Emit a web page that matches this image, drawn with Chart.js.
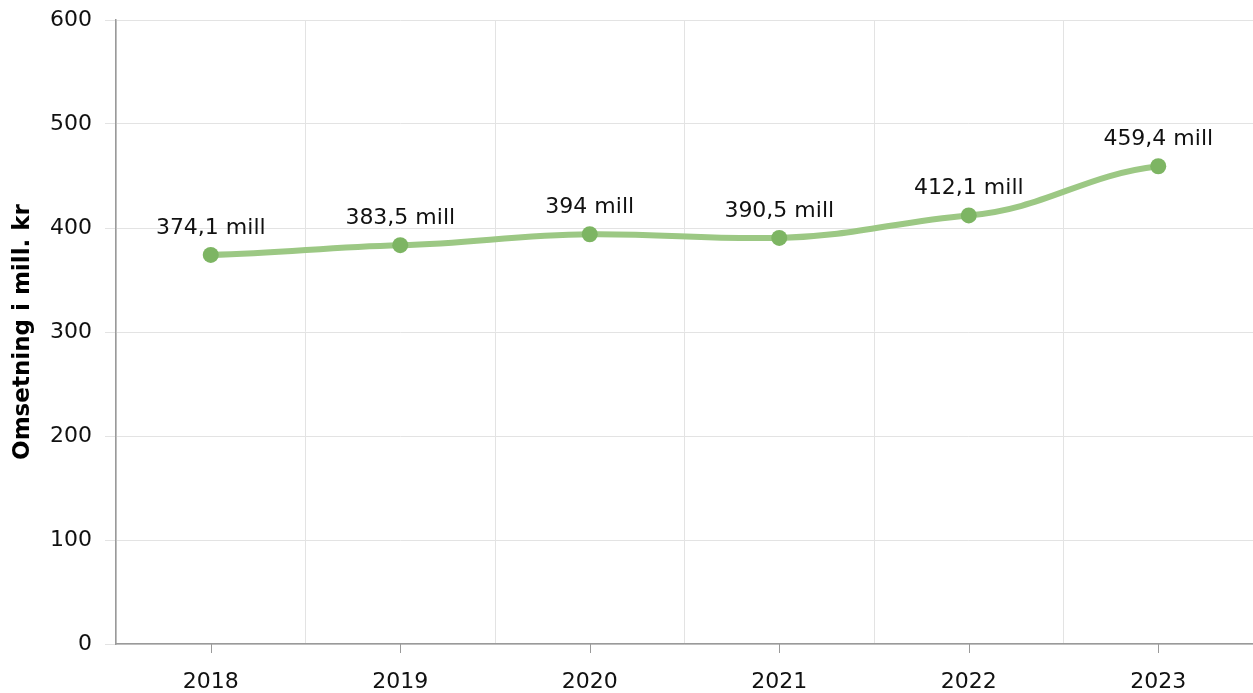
<!DOCTYPE html>
<html>
<head>
<meta charset="utf-8">
<script src="https://cdn.jsdelivr.net/npm/chart.js@4.4.1/dist/chart.umd.min.js"></script>
<style>
  html, body { margin: 0; padding: 0; background: #fff; }
  #wrap { width: 1253px; height: 693px; position: relative; }
</style>
</head>
<body>
<div id="wrap"><canvas id="myChart"></canvas></div>
<script>
const years = ['2018', '2019', '2020', '2021', '2022', '2023'];
const turnover = [374.1, 383.5, 394, 390.5, 412.1, 459.4];
const yTicks = [0, 100, 200, 300, 400, 500, 600];
const yTitle = 'Omsetning i mill. kr';

const fontFamily = "'DejaVu Sans', Verdana, sans-serif";
const gridColor = '#e3e3e3';
const axisColor = '#9a9a9a';

// soften the spline: pull control point heights towards the point itself
const flattenCurve = {
    id: 'flattenCurve',
    beforeDatasetDraw(chart, args) {
        const meta = args.meta;
        const line = meta.dataset;
        if (!line || line._flattened) return;
        line.updateControlPoints(chart.chartArea, meta.iScale.axis);
        meta.data.forEach(function (p) {
            p.cp1y = p.y + (p.cp1y - p.y) * 0.45;
            p.cp2y = p.y + (p.cp2y - p.y) * 0.45;
        });
        line._path = undefined;
        line._flattened = true;
    }
};

// value labels above the points, e.g. "374,1 mill"
const pointLabels = {
    id: 'pointLabels',
    afterDatasetsDraw(chart) {
        const ctx = chart.ctx;
        const meta = chart.getDatasetMeta(0);
        ctx.save();
        ctx.font = '22px ' + fontFamily;
        ctx.fillStyle = '#111';
        ctx.textAlign = 'center';
        ctx.textBaseline = 'middle';
        meta.data.forEach(function (pt, i) {
            const txt = String(turnover[i]).replace('.', ',') + ' mill';
            ctx.fillText(txt, pt.x, pt.y - 27);
        });
        ctx.restore();
    }
};

// small tick marks under the x axis at the category centres
const xTickMarks = {
    id: 'xTickMarks',
    afterDraw(chart) {
        const x = chart.scales.x;
        const ctx = chart.ctx;
        ctx.save();
        ctx.strokeStyle = axisColor;
        ctx.lineWidth = 1;
        x.ticks.forEach(function (t, i) {
            const px = Math.round(x.getPixelForTick(i)) + 0.5;
            ctx.beginPath();
            ctx.moveTo(px, x.top);
            ctx.lineTo(px, x.top + 9);
            ctx.stroke();
        });
        ctx.restore();
    }
};

const config = {
    type: 'line',
    data: {
        labels: years,
        datasets: [{
            label: yTitle,
            data: turnover,
            borderColor: '#9cc884',
            borderWidth: 6,
            tension: 0.4,
            pointRadius: 8,
            pointHoverRadius: 8,
            pointBackgroundColor: '#7db563',
            pointBorderColor: '#7db563',
            pointBorderWidth: 0,
            fill: false
        }]
    },
    options: {
        responsive: true,
        maintainAspectRatio: false,
        animation: false,
        layout: { autoPadding: false, padding: { top: 20, right: 0, left: 0, bottom: 0 } },
        plugins: {
            legend: { display: false },
            tooltip: { enabled: false }
        },
        scales: {
            x: {
                type: 'category',
                offset: true,
                grid: {
                    offset: true,
                    color: gridColor,
                    drawTicks: false
                },
                border: { color: axisColor, width: 1.5 },
                ticks: {
                    padding: 25,
                    color: '#111',
                    font: { family: fontFamily, size: 22 },
                    maxRotation: 0
                },
                afterFit(scale) { scale.height = 49; }
            },
            y: {
                min: 0,
                max: 600,
                afterBuildTicks(scale) {
                    scale.ticks = yTicks.map(function (v) { return { value: v }; });
                },
                grid: {
                    color: gridColor,
                    tickLength: 11,
                    tickColor: gridColor
                },
                border: { color: axisColor, width: 1.5 },
                ticks: {
                    padding: 13,
                    color: '#111',
                    font: { family: fontFamily, size: 22 }
                },
                title: {
                    display: true,
                    text: yTitle,
                    color: '#000',
                    font: { family: fontFamily, size: 23, weight: 'bold' },
                    padding: { top: 9, bottom: 0 }
                },
                afterFit(scale) {
                    scale.width = 116;
                    scale.paddingTop = 0;
                    scale.paddingBottom = 0;
                }
            }
        }
    },
    plugins: [flattenCurve, pointLabels, xTickMarks]
};

new Chart(document.getElementById('myChart'), config);
</script>
</body>
</html>
